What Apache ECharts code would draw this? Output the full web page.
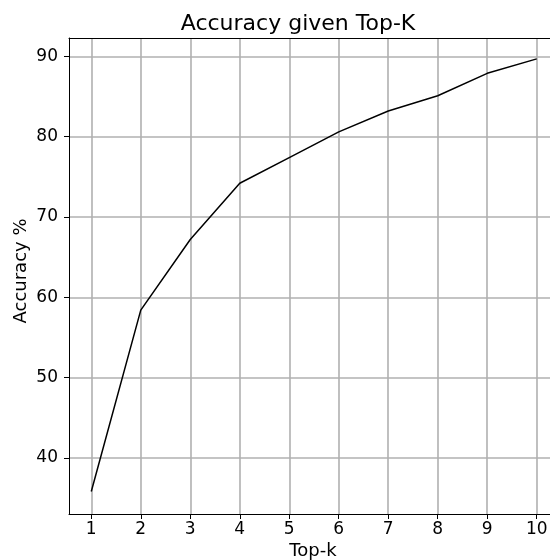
<!DOCTYPE html>
<html>
<head>
<meta charset="utf-8">
<script src="https://cdn.jsdelivr.net/npm/echarts@6/dist/echarts.min.js"></script>
<style>html,body{margin:0;padding:0;background:#fff}#c{width:550px;height:560px}</style>
</head>
<body>
<div id="c"></div>
<script>
const topK = [1, 2, 3, 4, 5, 6, 7, 8, 9, 10];
const accuracy = [35.8, 58.4, 67.2, 74.2, 77.4, 80.6, 83.2, 85.1, 87.9, 89.7];
const xTicks = [1, 2, 3, 4, 5, 6, 7, 8, 9, 10];
const yTicks = [40, 50, 60, 70, 80, 90];
const titleText = 'Accuracy given Top-K';
const xName = 'Top-k';
const yName = 'Accuracy %';

const FONT = 'DejaVu Sans';
const chart = echarts.init(document.getElementById('c'), null, {renderer: 'canvas'});
const axisCommon = {
  type: 'value',
  axisLine: {show: true, onZero: false, lineStyle: {color: '#000', width: 1}},
  axisTick: {show: true, inside: false, length: 5, lineStyle: {color: '#000', width: 1}},
  splitLine: {show: true, lineStyle: {color: '#b0b0b0', width: 1.6}},
  axisLabel: {color: '#000', fontFamily: FONT, fontSize: 17, showMinLabel: true, showMaxLabel: true}
};
chart.setOption({
  animation: false,
  backgroundColor: '#fff',
  grid: {left: 69, top: 38, width: 490, height: 476, containLabel: false, outerBoundsMode: 'none'},
  xAxis: [
    Object.assign({}, axisCommon, {
      min: 0.55, max: 10.45,
      axisTick: Object.assign({}, axisCommon.axisTick, {customValues: xTicks}),
      axisLabel: Object.assign({}, axisCommon.axisLabel, {customValues: xTicks, margin: 7})
    }),
    {
      type: 'value', position: 'top', min: 0.55, max: 10.45,
      axisLine: {show: true, onZero: false, lineStyle: {color: '#000', width: 1}},
      axisTick: {show: false}, axisLabel: {show: false}, splitLine: {show: false}
    }
  ],
  yAxis: Object.assign({}, axisCommon, {
    min: 33.0, max: 92.3,
    axisTick: Object.assign({}, axisCommon.axisTick, {customValues: yTicks}),
    axisLabel: Object.assign({}, axisCommon.axisLabel, {customValues: yTicks, margin: 11})
  }),
  series: [{
    type: 'line',
    xAxisIndex: 0,
    data: topK.map((k, i) => [k, accuracy[i]]),
    showSymbol: false,
    symbol: 'none',
    lineStyle: {color: '#000', width: 1.5},
    z: 5
  }],
  graphic: [
    {type: 'text', x: 298, y: 24, style: {text: titleText, font: '22px "DejaVu Sans"', fill: '#000', textAlign: 'center', textVerticalAlign: 'middle'}},
    {type: 'text', x: 313, y: 551, style: {text: xName, font: '18px "DejaVu Sans"', fill: '#000', textAlign: 'center', textVerticalAlign: 'middle'}},
    {type: 'text', x: 21, y: 271, rotation: Math.PI / 2, style: {text: yName, font: '18px "DejaVu Sans"', fill: '#000', textAlign: 'center', textVerticalAlign: 'middle'}}
  ]
});
</script>
</body>
</html>
